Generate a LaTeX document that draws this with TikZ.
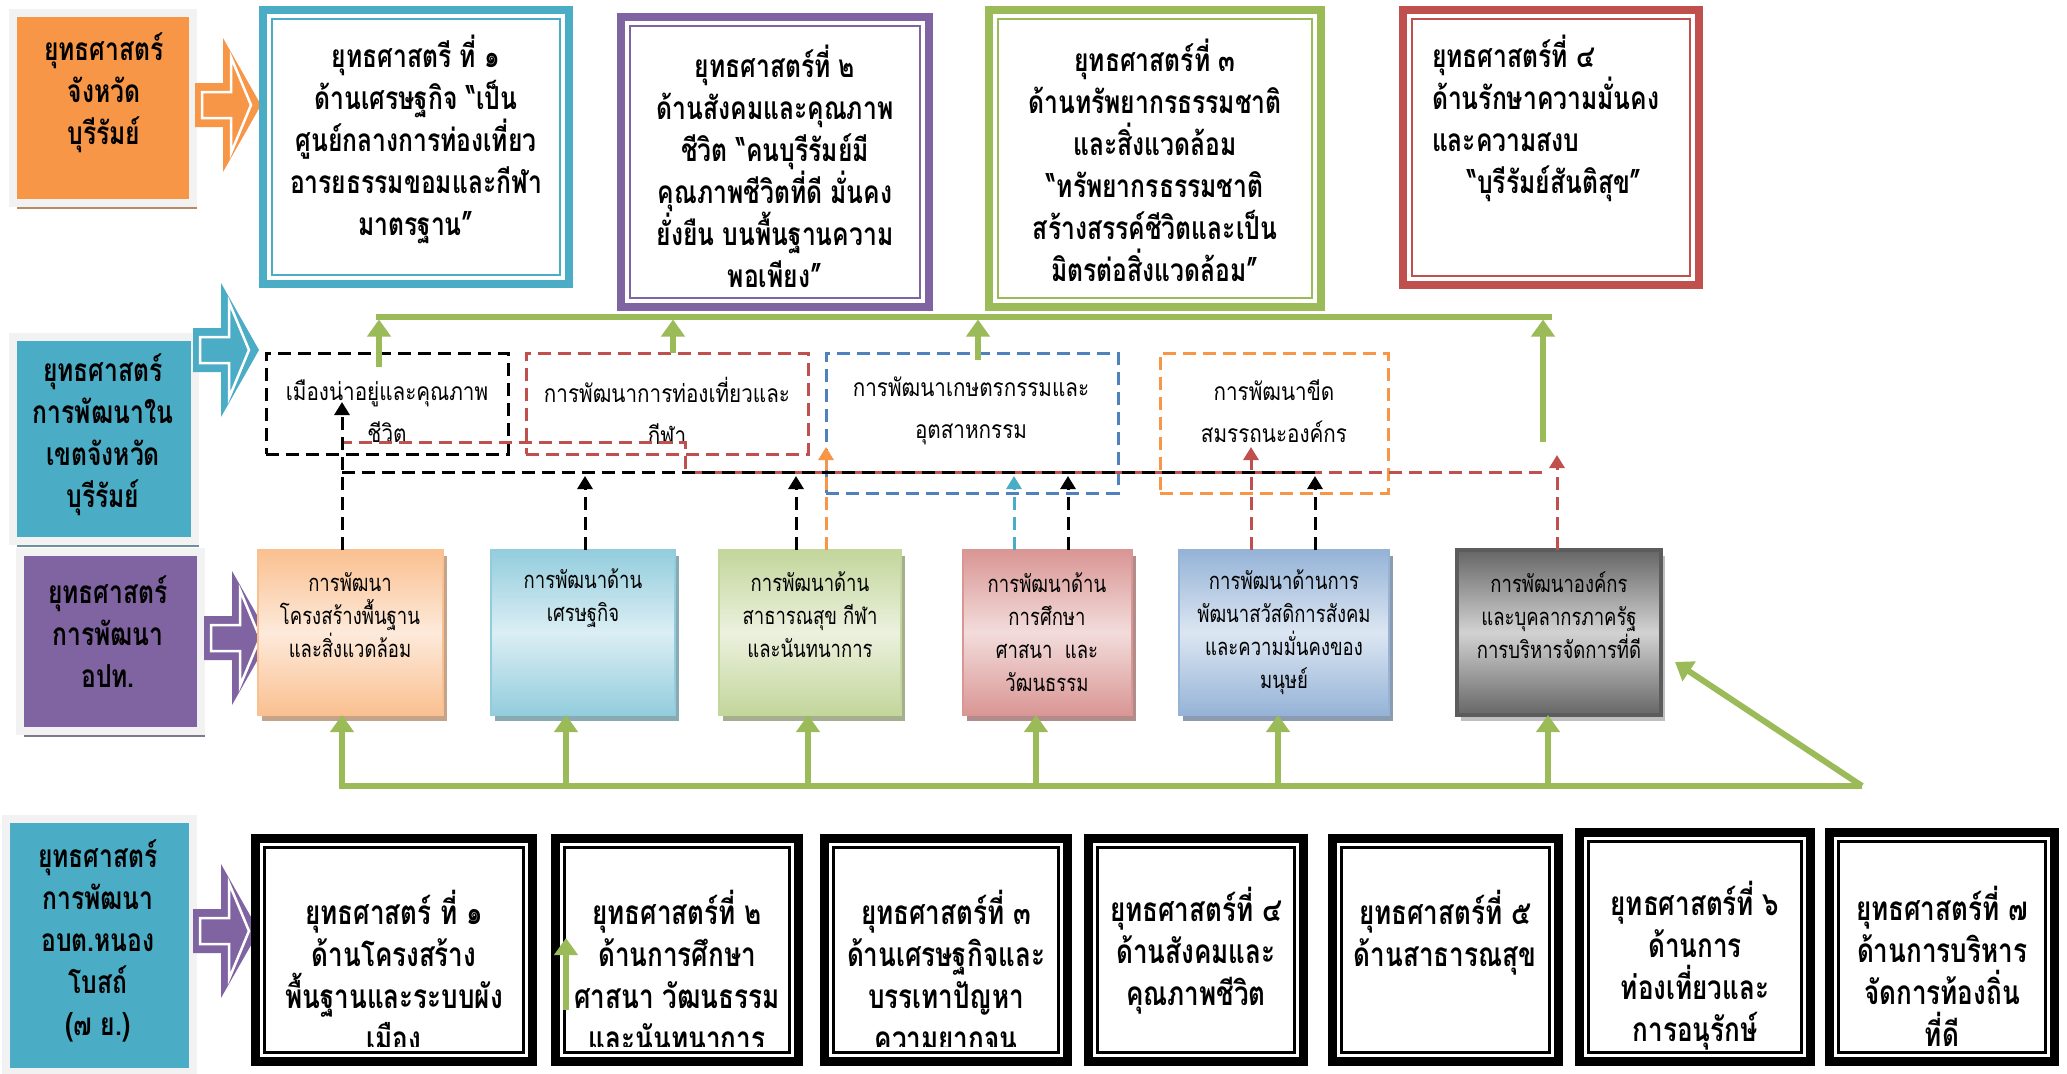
\documentclass[tikz,border=0pt]{standalone}
\usepackage{fontspec}
\newfontfamily\thaib[Script=Thai,FakeStretch=0.78]{Loma}
\newfontfamily\thaiw[Script=Thai,FakeStretch=0.84]{Loma}
\usetikzlibrary{positioning,calc,fit,shadows,arrows.meta}

\definecolor{orac}{HTML}{F79646}
\definecolor{tealc}{HTML}{4BACC6}
\definecolor{purc}{HTML}{8064A2}
\definecolor{grnc}{HTML}{9BBB59}
\definecolor{redc}{HTML}{C0504D}
\definecolor{bluec}{HTML}{4F81BD}
\definecolor{framec}{HTML}{F2F2F2}
\definecolor{g1d}{HTML}{FAC090}\definecolor{g1l}{HTML}{FDEADB}
\definecolor{g2d}{HTML}{93CDDD}\definecolor{g2l}{HTML}{DBEEF4}
\definecolor{g3d}{HTML}{C3D69B}\definecolor{g3l}{HTML}{EBF1DE}
\definecolor{g4d}{HTML}{D99694}\definecolor{g4l}{HTML}{F2DCDB}
\definecolor{g5d}{HTML}{95B3D7}\definecolor{g5l}{HTML}{DCE6F2}
\definecolor{g6d}{HTML}{666666}\definecolor{g6l}{HTML}{D2D2D2}

\tikzset{gshadow/.style={drop shadow={shadow xshift=0.08cm,shadow yshift=-0.12cm,fill=#1,opacity=1}}}

\begin{document}
\begin{tikzpicture}[x=0.02cm,y=-0.02cm]
  \tikzstyle{every node}=[inner sep=0pt, outer sep=0pt]
  \tikzstyle{lbl}=[draw=framec, line width=0.16cm]
  \tikzstyle{lbltxt}=[align=center, font=\thaib\bfseries\fontsize{18}{23.9}\selectfont]
  \tikzstyle{topbox}=[line width=0.16cm, fill=white]
  \tikzstyle{toptxt}=[align=center, font=\thaib\bfseries\fontsize{18}{23.9}\selectfont]
  \tikzstyle{dbox}=[line width=0.06cm, dash pattern=on 0.26cm off 0.14cm]
  \tikzstyle{dtxt}=[align=center, font=\thaiw\fontsize{14}{23.9}\selectfont]
  \tikzstyle{gbox}=[line width=0.05cm, shading angle=-45]
  \tikzstyle{gtxt}=[align=center, font=\thaib\fontsize{13.5}{18.8}\selectfont]
  \tikzstyle{sbox}=[draw=black, line width=0.18cm, fill=white]
  \tikzstyle{stxt}=[align=center, font=\thaib\bfseries\fontsize{19}{23.9}\selectfont]
  \tikzstyle{garrow}=[grnc, line width=0.12cm, -{Triangle[length=0.34cm,width=0.46cm]}]
  \tikzstyle{dline}=[line width=0.06cm, dash pattern=on 0.26cm off 0.14cm]
  \tikzstyle{conn}=[dline, -{Triangle[length=0.26cm,width=0.3cm]}]

  \useasboundingbox (0,0) rectangle (2067,1073);
  \fill[white] (0,0) rectangle (2067,1073);

  \node[lbl, fill=orac, gshadow=orac!45!gray, fit={(13,13) (193,203)}] (L1) {};
  \node[lbl, fill=tealc, gshadow=tealc!40!gray, fit={(13,337) (195,541)}] (L2) {};
  \node[lbl, fill=purc, gshadow=purc!30!gray, fit={(20,552) (201,731)}] (L3) {};
  \node[lbl, fill=tealc, gshadow=tealc!40!gray, fit={(6,819) (193,1072)}] (L4) {};
  \node[lbltxt] (L1t) at (104,93) {ยุทธศาสตร์\\จังหวัด\\บุรีรัมย์};
  \node[lbltxt] (L2t) at (103,435) {ยุทธศาสตร์\\การพัฒนาใน\\เขตจังหวัด\\บุรีรัมย์};
  \node[lbltxt] (L3t) at (108,632) {ยุทธศาสตร์\\การพัฒนา\\อปท.};
  \node[lbltxt] (L4t) at (98,941) {ยุทธศาสตร์\\การพัฒนา\\อบต.หนอง\\โบสถ์\\(๗ ย.)};

  \foreach \c/\x/\y in {orac/195/105, tealc/193/350, purc/204/638, purc/193/931}{
    \fill[\c] (\x,\y-22) -- (\x+28,\y-22) -- (\x+28,\y-67) -- (\x+66,\y) -- (\x+28,\y+67) -- (\x+28,\y+22) -- (\x,\y+22) -- cycle;
    \draw[white, line width=0.05cm] (\x+7,\y-13) -- (\x+36,\y-13) -- (\x+36,\y-48) -- (\x+56,\y) -- (\x+36,\y+48) -- (\x+36,\y+13) -- (\x+7,\y+13) -- cycle;
  }

  \node[topbox, draw=tealc, fit={(263,10) (569,284)}] (S1) {};
  \node[topbox, draw=purc, fit={(621,17) (929,307)}] (S2) {};
  \node[topbox, draw=grnc, fit={(989,10) (1321,307)}] (S3) {};
  \node[topbox, draw=redc, fit={(1403,10) (1699,285)}] (S4) {};

  \node[sbox, fit={(255.5,838.5) (532.5,1061.5)}] (B1) {};
  \node[sbox, fit={(555.5,838.5) (798.5,1061.5)}] (B2) {};
  \node[sbox, fit={(824.5,838.5) (1067.5,1061.5)}] (B3) {};
  \node[sbox, fit={(1088.5,838.5) (1303.5,1061.5)}] (B4) {};
  \node[sbox, fit={(1332.5,838.5) (1558.5,1061.5)}] (B5) {};
  \node[sbox, fit={(1579.5,832.5) (1810.5,1061.5)}] (B6) {};
  \node[sbox, fit={(1829.5,832.5) (2054.5,1061.5)}] (B7) {};

  \foreach \n/\c in {S1/tealc,S2/purc,S3/grnc,S4/redc,B1/black,B2/black,B3/black,B4/black,B5/black,B6/black,B7/black}
    \draw[\c, line width=0.045cm] ($(\n.north west)+(9,9)$) rectangle ($(\n.south east)+(-9,-9)$);

  \node[toptxt] (S1t) at (416,139) {ยุทธศาสตรี ที่ ๑\\ด้านเศรษฐกิจ “เป็น\\ศูนย์กลางการท่องเที่ยว\\อารยธรรมขอมและกีฬา\\มาตรฐาน”};
  \node[toptxt] (S2t) at (775,166) {ยุทธศาสตร์ที่ ๒\\ด้านสังคมและคุณภาพ\\ชีวิต “คนบุรีรัมย์มี\\คุณภาพชีวิตที่ดี มั่นคง\\ยั่งยืน บนพื้นฐานความ\\พอเพียง”};
  \node[toptxt] (S3t) at (1155,160) {ยุทธศาสตร์ที่ ๓\\ด้านทรัพยากรธรรมชาติ\\และสิ่งแวดล้อม\\“ทรัพยากรธรรมชาติ\\สร้างสรรค์ชีวิตและเป็น\\มิตรต่อสิ่งแวดล้อม”};
  \node[toptxt, align=left, anchor=west] (S4t) at (1432,118) {ยุทธศาสตร์ที่ ๔\\ด้านรักษาความมั่นคง\\และความสงบ\\\hspace*{0.7cm}“บุรีรัมย์สันติสุข”};

  \node[dbox, draw=black, fit={(266,353) (508,454)}] (D1) {};
  \node[dbox, draw=redc, fit={(526,353) (808,454)}] (D2) {};
  \node[dbox, draw=bluec, fit={(826,353) (1118,493)}] (D3) {};
  \node[dbox, draw=orac, fit={(1160,353) (1388,493)}] (D4) {};
  \node[dtxt] (D1t) at (387,411) {เมืองน่าอยู่และคุณภาพ\\ชีวิต};
  \node[dtxt] (D2t) at (667,411) {การพัฒนาการท่องเที่ยวและ\\กีฬา};
  \node[dtxt] (D3t) at (971,411) {การพัฒนาเกษตรกรรมและ\\อุตสาหกรรม};
  \node[dtxt] (D4t) at (1274,411) {การพัฒนาขีด\\สมรรถนะองค์กร};

  \node[gbox, draw=g1d, top color=g1d, bottom color=g1d, middle color=g1l, gshadow=g1d!55!gray, fit={(258,550) (443,715)}] (G1) {};
  \node[gbox, draw=g2d, top color=g2d, bottom color=g2d, middle color=g2l, gshadow=g2d!55!gray, fit={(491,550) (675,715)}] (G2) {};
  \node[gbox, draw=g3d, top color=g3d, bottom color=g3d, middle color=g3l, gshadow=g3d!55!gray, fit={(719,550) (901,715)}] (G3) {};
  \node[gbox, draw=g4d, top color=g4d, bottom color=g4d, middle color=g4l, gshadow=g4d!55!gray, fit={(963,550) (1132,715)}] (G4) {};
  \node[gbox, draw=g5d, top color=g5d, bottom color=g5d, middle color=g5l, gshadow=g5d!55!gray, fit={(1179,550) (1389,715)}] (G5) {};
  \node[gbox, draw=g6d!90!black, line width=0.07cm, top color=g6d, bottom color=g6d, middle color=g6l, gshadow=gray!50, fit={(1457,550) (1661,715)}] (G6) {};
  \node[gtxt] (G1t) at (350,615) {การพัฒนา\\โครงสร้างพื้นฐาน\\และสิ่งแวดล้อม};
  \node[gtxt] (G2t) at (583,598) {การพัฒนาด้าน\\เศรษฐกิจ};
  \node[gtxt] (G3t) at (810,615) {การพัฒนาด้าน\\สาธารณสุข กีฬา\\และนันทนาการ};
  \node[gtxt] (G4t) at (1047,632) {การพัฒนาด้าน\\การศึกษา\\ศาสนา~~และ\\วัฒนธรรม};
  \node[gtxt] (G5t) at (1284,632) {การพัฒนาด้านการ\\พัฒนาสวัสดิการสังคม\\และความมั่นคงของ\\มนุษย์};
  \node[gtxt] (G6t) at (1559,615) {การพัฒนาองค์กร\\และบุคลากรภาครัฐ\\การบริหารจัดการที่ดี};

  \begin{scope}
    \clip (251,834) rectangle (1072,1046);
    \node[stxt] (B1t) at (394,970) {ยุทธศาสตร์ ที่ ๑\\ด้านโครงสร้าง\\พื้นฐานและระบบผัง\\เมือง};
    \node[stxt] (B2t) at (677,970) {ยุทธศาสตร์ที่ ๒\\ด้านการศึกษา\\ศาสนา วัฒนธรรม\\และนันทนาการ};
    \node[stxt] (B3t) at (946,970) {ยุทธศาสตร์ที่ ๓\\ด้านเศรษฐกิจและ\\บรรเทาปัญหา\\ความยากจน};
  \end{scope}
  \node[stxt] (B4t) at (1196,951) {ยุทธศาสตร์ที่ ๔\\ด้านสังคมและ\\คุณภาพชีวิต};
  \node[stxt] (B5t) at (1445,933) {ยุทธศาสตร์ที่ ๕\\ด้านสาธารณสุข};
  \node[stxt] (B6t) at (1695,966) {ยุทธศาสตร์ที่ ๖\\ด้านการ\\ท่องเที่ยวและ\\การอนุรักษ์};
  \node[stxt] (B7t) at (1942,966) {ยุทธศาสตร์ที่ ๗\\ด้านการบริหาร\\จัดการท้องถิ่น\\ที่ดี};

  % dashed links
  \coordinate (kb1) at (342,402);
  \coordinate (kb2) at (585,476);
  \coordinate (kb3) at (796,476);
  \coordinate (kb4) at (1068,476);
  \coordinate (kb5) at (1315,476);
  \coordinate (ko) at (826,447);
  \coordinate (kt) at (1014,476);
  \coordinate (kr5) at (1251,447);
  \coordinate (kr6) at (1557,455);
  \coordinate (r1) at (1542,472);
  \coordinate (r2) at (685,472);
  \coordinate (r3) at (342,442);
  \coordinate (h1) at (342,472);
  \coordinate (h2) at (1315,472);
  \draw[dline, redc] (r1) -- (r2) |- (r3);
  \draw[dline] (h1) -- (h2);
  \draw[conn] (G1.north -| kb1) -- (kb1);
  \draw[conn] (G2.north -| kb2) -- (kb2);
  \draw[conn] (G3.north -| kb3) -- (kb3);
  \draw[conn] (G4.north -| kb4) -- (kb4);
  \draw[conn] (G5.north -| kb5) -- (kb5);
  \draw[conn, orac] (G3.north -| ko) -- (ko);
  \draw[conn, tealc] (G4.north -| kt) -- (kt);
  \draw[conn, redc] (G5.north -| kr5) -- (kr5);
  \draw[conn, redc] (G6.north -| kr6) -- (kr6);

  % green links
  \coordinate (ta) at (376,317);
  \coordinate (tb) at (1552,317);
  \draw[grnc, line width=0.12cm] (ta) -- (tb);
  \foreach \n/\x/\y in {a/379/367, b/673/353, c/978/360, d/1543/442}{
    \coordinate (u\n) at (\x,\y);
    \draw[garrow, shorten >=0.05cm] (u\n) -- (u\n |- ta);
  }
  \coordinate (bl) at (339,786);
  \coordinate (br) at (1862,786);
  \coordinate (dg) at (1675,662);
  \draw[grnc, line width=0.12cm] (bl) -- (br);
  \foreach \g/\x in {G1/342, G2/566, G3/808, G4/1036, G5/1278, G6/1548}{
    \coordinate (q\g) at (\x,786);
    \draw[garrow] (q\g) -- (q\g |- \g.south);
  }
  \draw[garrow] (br) -- (dg);
  \coordinate (sa) at (566,1010);
  \coordinate (sb) at (566,938);
  \draw[garrow] (sa) -- (sb);
\end{tikzpicture}
\end{document}
